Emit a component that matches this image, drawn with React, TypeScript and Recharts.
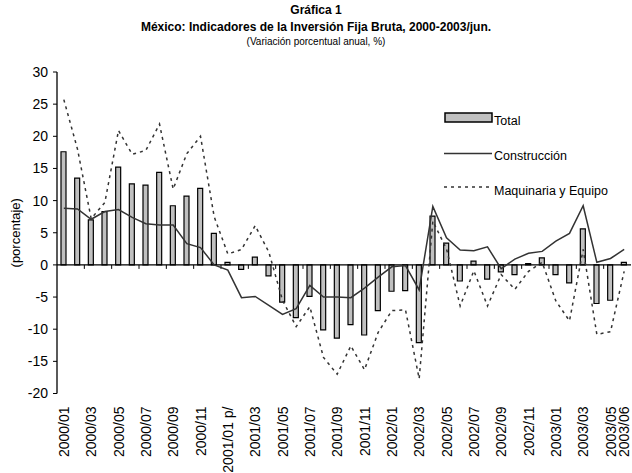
import React from 'react';
import { ComposedChart, Bar, Line, XAxis, YAxis, ReferenceLine, Legend, Label } from 'recharts';

const CATEGORIES = [
  '2000/01', '2000/02', '2000/03', '2000/04', '2000/05', '2000/06', '2000/07', '2000/08', '2000/09', '2000/10', '2000/11', '2000/12',
  '2001/01 p/', '2001/02', '2001/03', '2001/04', '2001/05', '2001/06', '2001/07', '2001/08', '2001/09', '2001/10', '2001/11', '2001/12',
  '2002/01', '2002/02', '2002/03', '2002/04', '2002/05', '2002/06', '2002/07', '2002/08', '2002/09', '2002/10', '2002/11', '2002/12',
  '2003/01', '2003/02', '2003/03', '2003/04', '2003/05', '2003/06',
];

// only every other month is labelled, plus the last one
const TICK_LABELS = [
  '2000/01', '2000/03', '2000/05', '2000/07', '2000/09', '2000/11',
  '2001/01 p/', '2001/03', '2001/05', '2001/07', '2001/09', '2001/11',
  '2002/01', '2002/03', '2002/05', '2002/07', '2002/09', '2002/11',
  '2003/01', '2003/03', '2003/05', '2003/06',
];

const TOTAL = [
  17.6, 13.5, 7.0, 8.3, 15.2, 12.6, 12.4, 14.4, 9.2, 10.7, 11.9, 4.9,
  0.4, -0.7, 1.2, -1.7, -5.8, -8.2, -4.9, -10.1, -11.4, -9.3, -10.9, -7.1,
  -4.1, -4.0, -12.1, 7.6, 3.4, -2.5, 0.6, -2.2, -1.1, -1.5, 0.2, 1.1,
  -1.5, -2.8, 5.6, -6.0, -5.5, 0.4,
];

const CONSTRUCCION = [
  8.8, 8.7, 7.1, 8.3, 8.6, 7.4, 6.4, 6.2, 6.2, 3.3, 2.7, 0.0,
  -0.8, -5.1, -4.9, -6.3, -7.7, -6.8, -3.2, -5.0, -5.0, -5.1, -3.6, -1.9,
  -0.3, -0.1, -3.9, 9.1, 4.2, 2.3, 2.2, 2.8, -0.6, 0.9, 1.8, 2.1,
  3.7, 4.9, 9.2, 0.4, 1.0, 2.4,
];

const MAQUINARIA = [
  25.7, 18.0, 7.2, 9.7, 20.9, 17.2, 17.8, 21.9, 11.8, 17.3, 20.0, 7.5,
  1.7, 2.4, 6.1, 2.0, -5.5, -9.6, -6.5, -14.4, -17.0, -12.6, -16.3, -10.5,
  -7.1, -7.0, -17.7, 6.8, 2.5, -6.4, -0.9, -6.4, -1.5, -3.8, -1.0, 0.4,
  -5.6, -8.7, 2.4, -10.8, -10.4, -1.0,
];

const Y_TICKS = [-20, -15, -10, -5, 0, 5, 10, 15, 20, 25, 30];

const data = CATEGORIES.map((name, i) => ({
  name,
  Total: TOTAL[i],
  'Construcción': CONSTRUCCION[i],
  'Maquinaria y Equipo': MAQUINARIA[i],
}));

const FONT = "'Liberation Sans', Arial, sans-serif";
const LINE_COLOR = '#333333';

const XTick = ({ x, y, payload }: any) => {
  if (!TICK_LABELS.includes(payload.value)) return null;
  const top = y + 13;
  return (
    <text
      x={x}
      y={top}
      transform={`rotate(-90, ${x}, ${top})`}
      textAnchor="end"
      dy="0.36em"
      fontSize={14}
      fontFamily={FONT}
      fill="#000"
    >
      {payload.value}
    </text>
  );
};

// zero line with the small tick marks every two months
const ZeroAxis = (props: any) => {
  const { x1, x2, y1 } = props;
  const step = (x2 - x1) / CATEGORIES.length;
  const marks: number[] = [];
  for (let k = 2; k < CATEGORIES.length; k += 2) marks.push(x1 + k * step);
  return (
    <g>
      <line x1={x1} x2={x2} y1={y1} y2={y1} stroke="#000" strokeWidth={1.3} />
      {marks.map((m) => (
        <line key={m} x1={m} x2={m} y1={y1} y2={y1 + 4} stroke="#000" strokeWidth={1} />
      ))}
    </g>
  );
};

const YLabel = ({ viewBox }: any) => {
  const cx = 15;
  const cy = viewBox.y + viewBox.height / 2;
  return (
    <text
      x={cx}
      y={cy}
      transform={`rotate(-90, ${cx}, ${cy})`}
      textAnchor="middle"
      dy="0.35em"
      fontSize={13}
      fontFamily={FONT}
      fill="#000"
    >
      (porcentaje)
    </text>
  );
};

const LegendContent = () => (
  <div style={{ position: 'relative', width: 190, height: 100, fontFamily: FONT, fontSize: 12.5, color: '#000' }}>
    <svg width={50} height={90} style={{ position: 'absolute', left: 0, top: 0 }}>
      <rect x={1} y={5} width={47} height={9} fill="#C0C0C0" stroke="#000" strokeWidth={1.5} />
      <line x1={0} x2={48} y1={45.5} y2={45.5} stroke={LINE_COLOR} strokeWidth={1.5} />
      <line x1={0} x2={48} y1={79} y2={79} stroke={LINE_COLOR} strokeWidth={1.5} strokeDasharray="3 4" />
    </svg>
    <div style={{ position: 'absolute', left: 50, top: 5, lineHeight: '16px' }}>Total</div>
    <div style={{ position: 'absolute', left: 50, top: 40, lineHeight: '16px' }}>Construcción</div>
    <div style={{ position: 'absolute', left: 50, top: 75, lineHeight: '16px' }}>Maquinaria y Equipo</div>
  </div>
);

export default function App() {
  return (
    <div style={{ position: 'absolute', left: 0, top: 0, width: 632, height: 473, overflow: 'hidden', background: '#fff', fontFamily: FONT }}>
      <div style={{ position: 'absolute', left: 0, width: 632, top: 2, textAlign: 'center', fontWeight: 'bold', fontSize: 12, lineHeight: '16px' }}>
        Gráfica 1
      </div>
      <div style={{ position: 'absolute', left: 0, width: 632, top: 19, textAlign: 'center', fontWeight: 'bold', fontSize: 12, lineHeight: '16px' }}>
        México: Indicadores de la Inversión Fija Bruta, 2000-2003/jun.
      </div>
      <div style={{ position: 'absolute', left: 0, width: 632, top: 35, textAlign: 'center', fontSize: 10, lineHeight: '13px' }}>
        (Variación porcentual anual, %)
      </div>
      <ComposedChart
        width={637}
        height={473}
        data={data}
        margin={{ top: 72, right: 6, left: 0, bottom: 0 }}
        barCategoryGap={0}
      >
        <XAxis
          dataKey="name"
          interval={0}
          height={79.5}
          axisLine={false}
          tickLine={false}
          tickSize={0}
          tickMargin={0}
          tick={<XTick />}
        />
        <YAxis
          domain={[-20, 30]}
          ticks={Y_TICKS}
          width={57}
          axisLine={{ stroke: '#000', strokeWidth: 1.3 }}
          tickLine={{ stroke: '#000' }}
          tickSize={4}
          tickMargin={5}
          tick={{ fontSize: 14, fill: '#000', fontFamily: FONT }}
        >
          <Label content={<YLabel />} />
        </YAxis>
        <Legend
          layout="horizontal"
          verticalAlign="middle"
          align="center"
          content={<LegendContent />}
          wrapperStyle={{ position: 'absolute', left: 444, top: 108, width: 190, height: 100 }}
        />
        <Bar dataKey="Total" fill="#C0C0C0" stroke="#000" strokeWidth={1.2} barSize={5} isAnimationActive={false} />
        <ReferenceLine y={0} shape={<ZeroAxis />} />
        <Line
          type="linear"
          dataKey="Construcción"
          stroke={LINE_COLOR}
          strokeWidth={1.5}
          dot={false}
          activeDot={false}
          isAnimationActive={false}
        />
        <Line
          type="linear"
          dataKey="Maquinaria y Equipo"
          stroke={LINE_COLOR}
          strokeWidth={1.5}
          strokeDasharray="3 4"
          dot={false}
          activeDot={false}
          isAnimationActive={false}
        />
      </ComposedChart>
    </div>
  );
}
